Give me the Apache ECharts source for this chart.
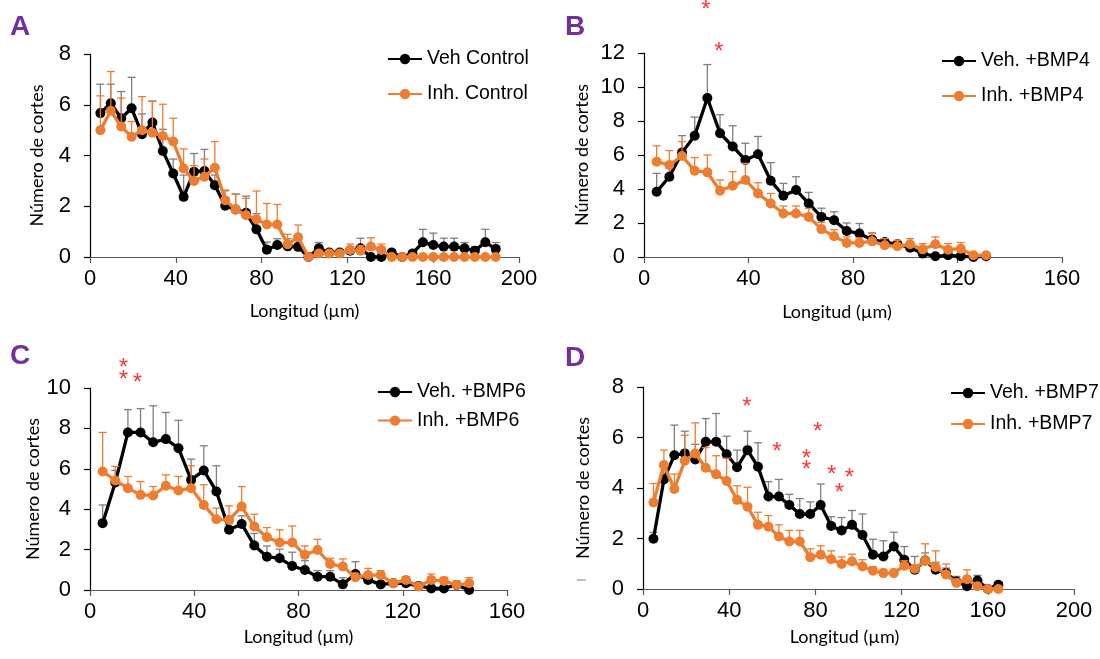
<!DOCTYPE html>
<html>
<head>
<meta charset="utf-8">
<script src="https://cdn.jsdelivr.net/npm/echarts@6/dist/echarts.min.js"></script>
<style>html,body{margin:0;padding:0;background:#fff}#c{width:1100px;height:659px}</style>
</head>
<body>
<div id="c"></div>
<script>
// Longitud (µm) positions of the measurement points
const longitud = [4.85, 9.70, 14.55, 19.40, 24.25, 29.10, 33.95, 38.80, 43.65, 48.50,
  53.35, 58.20, 63.05, 67.90, 72.75, 77.60, 82.45, 87.30, 92.15, 97.00,
  101.85, 106.70, 111.55, 116.40, 121.25, 126.10, 130.95, 135.80, 140.65, 145.50,
  150.35, 155.20, 160.05, 164.90, 169.75, 174.60, 179.45, 184.30, 189.15];

// Panel A
const vehControl = [5.67, 6.06, 5.47, 5.86, 4.84, 5.30, 4.18, 3.29, 2.37, 3.36, 3.39, 2.83, 2.02, 1.87, 1.74, 1.09, 0.29, 0.47, 0.42, 0.40,
  0.00, 0.34, 0.18, 0.18, 0.25, 0.34, 0.00, 0.00, 0.18, 0.00, 0.14, 0.58, 0.47, 0.41, 0.41, 0.34, 0.25, 0.58, 0.32];
const vehControlErr = [1.14, 0.75, 1.05, 1.22, 0.80, 0.83, 0.85, 0.57, 0.86, 0.72, 0.85, 0.40, 0.59, 0.61, 0.66, 0.62, 0.30, 0.25, 0.30, 0.25,
  0.00, 0.23, 0.10, 0.10, 0.15, 0.40, 0.00, 0.00, 0.12, 0.00, 0.10, 0.51, 0.47, 0.33, 0.33, 0.23, 0.15, 0.51, 0.25];
const inhControl = [5.00, 5.76, 5.14, 4.74, 5.00, 4.90, 4.77, 4.55, 3.49, 3.00, 3.16, 3.52, 2.24, 1.87, 1.65, 1.49, 1.28, 1.28, 0.50, 0.78,
  0.00, 0.14, 0.14, 0.14, 0.28, 0.25, 0.41, 0.28, 0.00, 0.00, 0.00, 0.00, 0.00, 0.00, 0.00, 0.00, 0.00, 0.00, 0.00];
const inhControlErr = [1.35, 1.55, 1.12, 0.60, 1.32, 1.25, 1.25, 0.92, 0.77, 0.60, 0.70, 1.03, 0.40, 0.61, 0.66, 1.11, 0.83, 0.79, 0.40, 0.48,
  0.00, 0.10, 0.10, 0.10, 0.23, 0.20, 0.35, 0.23, 0, 0, 0, 0, 0, 0, 0, 0, 0, 0, 0];

// Panel B
const vehBMP4 = [3.84, 4.72, 6.14, 7.13, 9.35, 7.28, 6.50, 5.71, 6.04, 4.49, 3.60, 3.94, 3.15, 2.36, 2.16, 1.53, 1.38, 1.02, 0.88, 0.75,
  0.55, 0.20, 0.04, 0.10, 0.05, 0.00, 0.05];
const vehBMP4Err = [1.08, 0.50, 1.00, 1.10, 1.97, 1.09, 1.22, 0.98, 1.05, 1.06, 0.73, 0.78, 0.65, 0.51, 0.50, 0.47, 0.59, 0.40, 0.20, 0.15,
  0.10, 0.10, 0.05, 0.10, 0.05, 0.00, 0.05];
const inhBMP4 = [5.61, 5.41, 5.94, 5.08, 4.98, 3.90, 4.19, 4.53, 3.74, 3.15, 2.56, 2.56, 2.36, 1.64, 1.22, 0.83, 0.83, 0.92, 0.69, 0.63,
  0.75, 0.45, 0.75, 0.43, 0.49, 0.10, 0.10];
const inhBMP4Err = [0.93, 0.85, 0.85, 0.77, 1.02, 0.63, 0.83, 0.98, 0.63, 0.59, 0.44, 0.44, 0.50, 0.40, 0.39, 0.35, 0.30, 0.46, 0.39, 0.35,
  0.33, 0.34, 0.43, 0.36, 0.36, 0.10, 0.05];
const starsB = [[23.7, 14.85], [28.7, 12.4]];

// Panel C
const vehBMP6 = [3.31, 5.32, 7.80, 7.80, 7.31, 7.47, 7.02, 5.45, 5.92, 4.88, 2.98, 3.27, 2.20, 1.65, 1.57, 1.19, 0.99, 0.66, 0.66, 0.28,
  0.79, 0.50, 0.28, 0.33, 0.33, 0.20, 0.08, 0.08, 0.25, 0.00];
const vehBMP6Err = [0.90, 0.60, 1.13, 1.18, 1.81, 1.32, 1.38, 1.03, 1.22, 1.27, 0.30, 0.40, 0.60, 0.53, 0.45, 0.68, 0.46, 0.30, 0.30, 0.33,
  0.61, 0.15, 0.15, 0.15, 0.10, 0.15, 0.10, 0.10, 0.10, 0.10];
const inhBMP6 = [5.87, 5.42, 5.04, 4.71, 4.68, 5.16, 4.93, 5.04, 4.21, 3.50, 3.47, 4.13, 3.14, 2.61, 2.35, 2.35, 1.74, 1.98, 1.29, 1.16,
  0.63, 0.74, 0.74, 0.33, 0.50, 0.17, 0.50, 0.45, 0.25, 0.33];
const inhBMP6Err = [1.93, 0.70, 0.58, 0.66, 0.44, 0.54, 0.69, 1.11, 1.00, 0.55, 0.70, 0.99, 0.61, 0.48, 0.63, 0.82, 0.44, 0.53, 0.28, 0.38,
  0.20, 0.33, 0.22, 0.15, 0.16, 0.10, 0.29, 0.18, 0.20, 0.28];
const starsC = [[12.8, 11.29], [12.8, 10.69], [18.2, 10.53]];

// Panel D
const vehBMP7 = [1.99, 4.34, 5.30, 5.37, 5.13, 5.83, 5.83, 5.34, 4.82, 5.50, 4.84, 3.66, 3.66, 3.33, 2.97, 2.97, 3.33, 2.50, 2.32, 2.54,
  2.14, 1.36, 1.29, 1.68, 1.16, 0.76, 1.13, 0.76, 0.63, 0.30, 0.11, 0.34, 0.00, 0.17];
const vehBMP7Err = [0.25, 0.50, 1.19, 0.88, 0.60, 0.92, 1.12, 0.71, 0.68, 0.75, 0.95, 0.59, 0.68, 0.42, 0.61, 0.48, 0.83, 0.36, 0.51, 0.57,
  0.83, 0.61, 0.62, 0.57, 0.52, 0.53, 0.30, 0.30, 0.20, 0.20, 0.15, 0.20, 0.05, 0.10];
const inhBMP7 = [3.43, 4.91, 3.96, 5.08, 5.37, 4.80, 4.54, 4.28, 3.53, 3.26, 2.54, 2.47, 2.08, 1.88, 1.88, 1.26, 1.36, 1.18, 0.99, 1.09,
  0.89, 0.72, 0.63, 0.63, 0.92, 0.80, 1.12, 0.87, 0.57, 0.24, 0.39, 0.11, 0.00, 0.00];
const inhBMP7Err = [0.75, 0.59, 0.59, 1.01, 1.21, 0.80, 0.74, 0.90, 0.56, 0.77, 0.50, 0.44, 0.46, 0.44, 0.44, 0.33, 0.35, 0.33, 0.28, 0.29,
  0.27, 0.17, 0.15, 0.15, 0.20, 0.15, 0.67, 0.64, 0.42, 0.15, 0.37, 0.10, 0.00, 0.00];
const starsD = [[48.2, 7.45], [62.1, 5.66], [75.8, 5.38], [75.8, 4.94], [81.0, 6.43], [87.5, 4.75], [91.2, 4.03], [95.8, 4.61]];

const xTitle = 'Longitud (µm)';
const yTitle = 'Número de cortes';

const BLACK = '#000000', ORANGE = '#ED7D31', GREYBAR = '#7F7F7F';

const panels = [
  {letter: 'A', names: ['Veh Control', 'Inh. Control'], veh: vehControl, vehErr: vehControlErr, inh: inhControl, inhErr: inhControlErr, stars: [],
   grid: {left: 90, top: 54, width: 429, height: 203}, xMax: 200, yMax: 8,
   legend: {left: 387, top: 49, gap: 15}, yGap: 44, xGap: 45, xPad: 0, letterPos: [10, 13]},
  {letter: 'B', names: ['Veh. +BMP4', 'Inh. +BMP4'], veh: vehBMP4, vehErr: vehBMP4Err, inh: inhBMP4, inhErr: inhBMP4Err, stars: starsB,
   grid: {left: 644, top: 53, width: 418, height: 204}, xMax: 160, yMax: 12,
   legend: {left: 941, top: 51, gap: 15}, yGap: 53, xGap: 46, xPad: 32, letterPos: [565, 13]},
  {letter: 'C', names: ['Veh. +BMP6', 'Inh. +BMP6'], veh: vehBMP6, vehErr: vehBMP6Err, inh: inhBMP6, inhErr: inhBMP6Err, stars: starsC,
   grid: {left: 90, top: 388, width: 417, height: 202}, xMax: 160, yMax: 10,
   legend: {left: 377, top: 382, gap: 8.6}, yGap: 44, xGap: 38, xPad: 0, letterPos: [10, 342]},
  {letter: 'D', names: ['Veh. +BMP7', 'Inh. +BMP7'], veh: vehBMP7, vehErr: vehBMP7Err, inh: inhBMP7, inhErr: inhBMP7Err, stars: starsD,
   grid: {left: 643, top: 387, width: 431, height: 202}, xMax: 200, yMax: 8,
   legend: {left: 950, top: 383, gap: 11}, yGap: 51, xGap: 39, xPad: 28, letterPos: [565, 344]}
];

function errRenderer(color) {
  return function (params, api) {
    const x = api.value(0), y = api.value(1), e = api.value(2);
    if (!(e > 0)) return null;
    const p0 = api.coord([x, y]);
    const p1 = api.coord([x, y + e]);
    const st = {stroke: color, lineWidth: 1.3};
    return {type: 'group', children: [
      {type: 'line', shape: {x1: p0[0], y1: p0[1], x2: p1[0], y2: p1[1]}, style: st},
      {type: 'line', shape: {x1: p1[0] - 4, y1: p1[1], x2: p1[0] + 4, y2: p1[1]}, style: st}
    ]};
  };
}

const option = {animation: false, backgroundColor: '#fff', grid: [], xAxis: [], yAxis: [], legend: [], series: [], graphic: []};

panels.forEach((p, i) => {
  option.grid.push(Object.assign({containLabel: false}, p.grid));
  option.xAxis.push({
    type: 'value', gridIndex: i, min: 0, max: p.xMax, interval: 40,
    name: xTitle, nameLocation: 'middle', nameGap: p.xGap,
    nameTextStyle: {fontFamily: 'Lato', fontSize: 18, color: '#000', padding: [0, p.xPad, 0, 0]},
    axisLine: {show: true, onZero: false, lineStyle: {color: '#595959', width: 1.2}},
    axisTick: {show: true, length: 6, lineStyle: {color: '#595959', width: 1.2}},
    axisLabel: {fontFamily: 'Liberation Sans', fontSize: 22, color: '#000', margin: 11},
    splitLine: {show: false}
  });
  option.yAxis.push({
    type: 'value', gridIndex: i, min: 0, max: p.yMax, interval: 2,
    name: yTitle, nameLocation: 'middle', nameGap: p.yGap,
    nameTextStyle: {fontFamily: 'Lato', fontSize: 18, color: '#000'},
    axisLine: {show: true, lineStyle: {color: '#000', width: 1.2}},
    axisTick: {show: true, length: 6, lineStyle: {color: '#000', width: 1.2}},
    axisLabel: {fontFamily: 'Liberation Sans', fontSize: 22, color: '#000', margin: 19},
    splitLine: {show: false}
  });
  option.legend.push({
    orient: 'vertical', left: p.legend.left, top: p.legend.top, itemGap: p.legend.gap, padding: 0,
    itemWidth: 34, itemHeight: 13, data: p.names,
    textStyle: {fontFamily: 'Liberation Sans', fontSize: 19.5, color: '#000'},
    selectedMode: false
  });
  const mk = (vals) => vals.map((v, j) => [longitud[j], v]);
  const mkErr = (vals, errs) => vals.map((v, j) => [longitud[j], v, errs[j]]);
  option.series.push({
    type: 'custom', xAxisIndex: i, yAxisIndex: i, renderItem: errRenderer(GREYBAR),
    data: mkErr(p.veh, p.vehErr), encode: {x: 0, y: 1}, z: 2, silent: true
  });
  option.series.push({
    type: 'line', name: p.names[0], xAxisIndex: i, yAxisIndex: i, data: mk(p.veh),
    symbol: 'circle', symbolSize: 10, showAllSymbol: true,
    lineStyle: {color: BLACK, width: 3.3}, itemStyle: {color: BLACK}, z: 3
  });
  option.series.push({
    type: 'custom', xAxisIndex: i, yAxisIndex: i, renderItem: errRenderer(ORANGE),
    data: mkErr(p.inh, p.inhErr), encode: {x: 0, y: 1}, z: 4, silent: true
  });
  option.series.push({
    type: 'line', name: p.names[1], xAxisIndex: i, yAxisIndex: i, data: mk(p.inh),
    symbol: 'circle', symbolSize: 10, showAllSymbol: true,
    lineStyle: {color: ORANGE, width: 3.3}, itemStyle: {color: ORANGE}, z: 5
  });
  if (p.stars.length) {
    option.series.push({
      type: 'scatter', xAxisIndex: i, yAxisIndex: i, data: p.stars, clip: false,
      symbolSize: 1, itemStyle: {color: 'rgba(0,0,0,0)'}, z: 6, silent: true,
      label: {show: true, position: 'inside', formatter: '*', color: '#FF0000',
              fontFamily: 'Liberation Sans', fontSize: 24, offset: [0, 6]}
    });
  }
  option.graphic.push({
    type: 'text', left: p.letterPos[0], top: p.letterPos[1],
    style: {text: p.letter, fill: '#7030A0', font: 'bold 28px "Liberation Sans"'}
  });
});
option.graphic.push({type: 'line', shape: {x1: 577, y1: 580, x2: 586, y2: 580}, style: {stroke: '#808080', lineWidth: 1}});

const chart = echarts.init(document.getElementById('c'), null, {renderer: 'canvas'});
chart.setOption(option);
</script>
</body>
</html>
